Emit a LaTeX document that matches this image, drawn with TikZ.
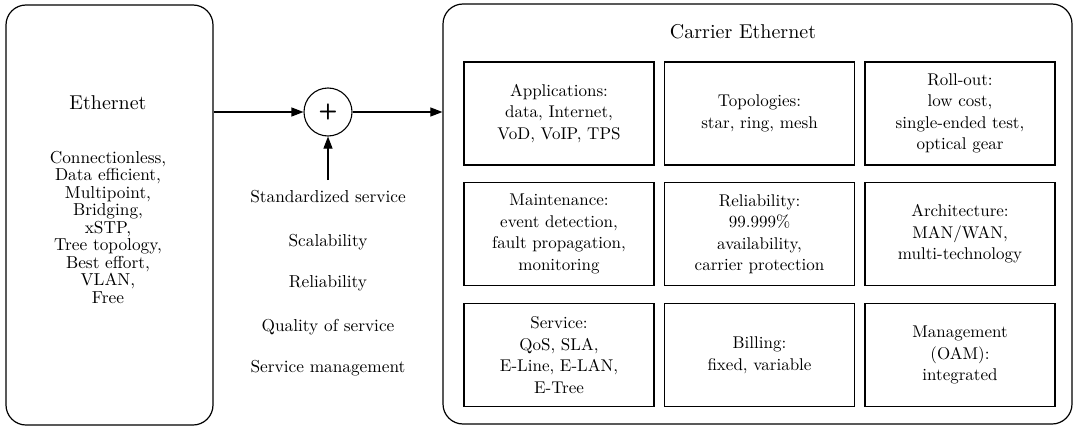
\documentclass[tikz,border=0pt]{standalone}
\usepackage{fontspec}
\setmainfont{lmroman10-regular.otf}[BoldFont=lmroman10-bold.otf]
\usepackage{tikz}
\usetikzlibrary{positioning, arrows.meta, calc}

\tikzset{
    outerbox/.style={draw, rounded corners=20pt, line width=1.2pt, inner sep=0pt},
    cellbox/.style={draw, line width=1.1pt, inner sep=0pt, minimum width=190pt,
        minimum height=103pt, align=center, font=\fontsize{17}{21.5}\selectfont},
    arr/.style={-{Triangle[length=12pt,width=9pt]}, line width=1.1pt},
    title/.style={font=\fontsize{20}{24}\selectfont},
    plain/.style={font=\fontsize{17.3}{17.5}\selectfont, align=center}
}

\begin{document}
\begin{tikzpicture}[x=1pt, y=-1pt]
    \useasboundingbox (0,0) rectangle (1076,428);

    % left box
    \node[outerbox, minimum width=207pt, minimum height=420pt] (eth) at (109.5,215) {};
    \node[title] (ethtitle) at (108,103) {Ethernet};
    \node[plain] (ethlist) at (108,227) {Connectionless,\\Data efficient,\\Multipoint,\\Bridging,\\xSTP,\\Tree topology,\\Best effort,\\VLAN,\\Free};

    % right box
    \node[outerbox, minimum width=629pt, minimum height=420pt] (carrier) at (757.5,214) {};
    \node[title] (cartitle) at (743,32) {Carrier Ethernet};

    % cells
    \foreach \cell/\x/\y/\txt in {
        app/559/113.5/{Applications:\\data, Internet,\\VoD, VoIP, TPS},
        topo/759.5/113.5/{Topologies:\\star, ring, mesh},
        roll/960/113.5/{Roll-out:\\low cost,\\single-ended test,\\optical gear},
        maint/559/234/{Maintenance:\\event detection,\\fault propagation,\\monitoring},
        rel/759.5/234/{Reliability:\\99.999\%\\availability,\\carrier protection},
        arch/960/234/{Architecture:\\MAN/WAN,\\multi-technology},
        serv/559/355/{Service:\\QoS, SLA,\\E-Line, E-LAN,\\E-Tree},
        bill/759.5/355/{Billing:\\fixed, variable},
        mgmt/960/355/{Management\\(OAM):\\integrated}}{
        \node[cellbox] (\cell) at (\x,\y) {\txt};
    }

    % adder
    \node[draw, circle, line width=1.1pt, minimum size=48pt, inner sep=0pt] (sum) at (328,112)
        {\fontsize{22}{22}\selectfont\sffamily\bfseries +};
    \coordinate (feed) at (328,180);

    \draw[arr] (eth.east |- sum.west) -- (sum.west);
    \draw[arr] (sum.east) -- (carrier.west |- sum.east);
    \draw[arr] (feed) -- (sum.south);

    % added features
    \foreach \name/\y/\txt in {
        std/197/Standardized service,
        scal/242/Scalability,
        reli/283/Reliability,
        qos/327/Quality of service,
        smgmt/368/Service management}{
        \node[plain] (\name) at (328,\y) {\txt};
    }
\end{tikzpicture}
\end{document}
